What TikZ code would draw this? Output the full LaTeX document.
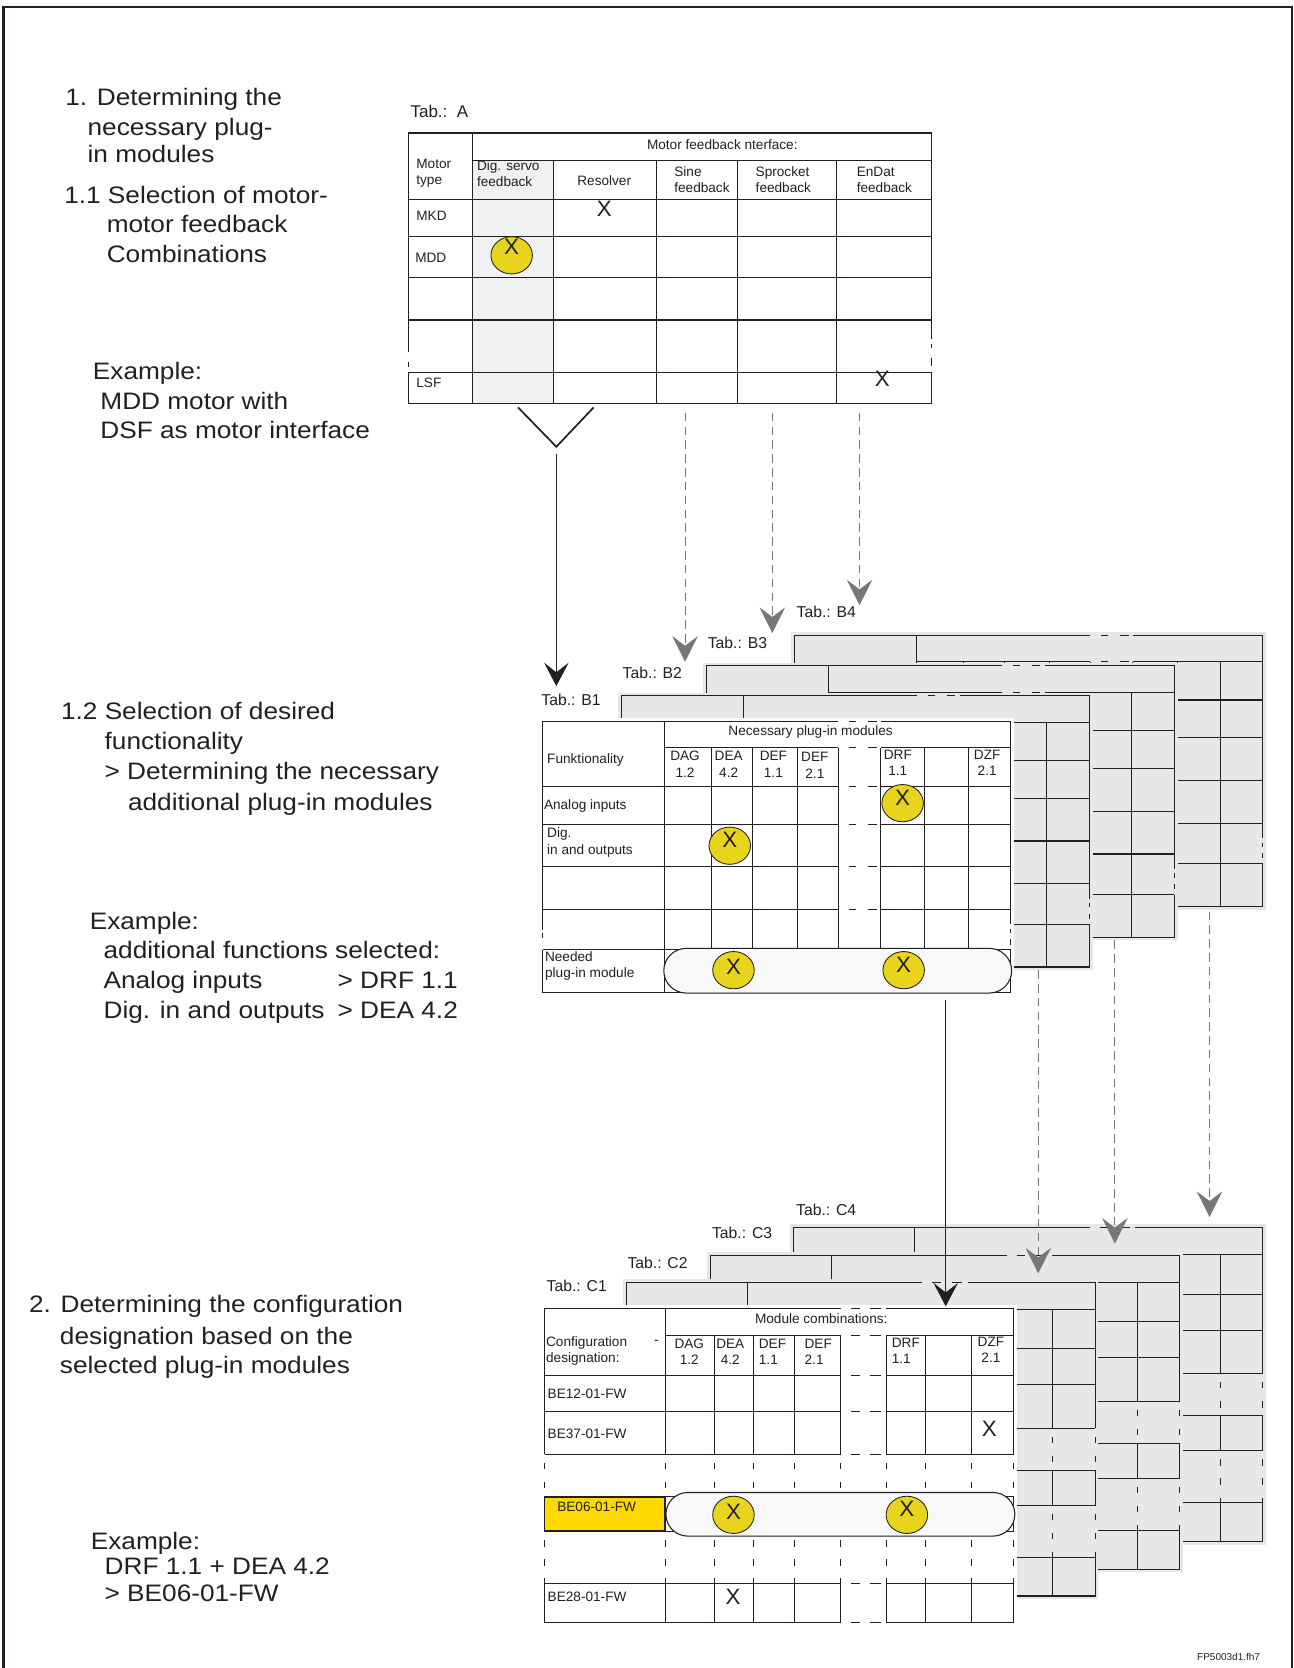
\documentclass[tikz,border=0pt]{standalone}
\usepackage{fontspec}
\setmainfont{Liberation Sans}
\newfontfamily\widesans[FakeStretch=1.1]{Liberation Sans}
\usetikzlibrary{arrows.meta,shapes.geometric,shapes.misc}
\definecolor{linec}{HTML}{231F20}
\definecolor{backgray}{HTML}{E6E7E8}
\definecolor{colgray}{HTML}{F0F1F3}
\definecolor{dotyellow}{HTML}{E8D41C}
\definecolor{boxyellow}{HTML}{FFD800}
\definecolor{stadfill}{HTML}{F8F8F8}
\definecolor{arrowgray}{HTML}{777777}

% one sheet of the Tab.: B stack, #1 = top left corner, #2 = fill
\newcommand{\gridB}[2]{%
\begin{scope}[shift={#1}]
  \fill[#2] (-3,-3) rectangle (443,258);
  \draw[tl] (0,196) -- (0,0) -- (278,0) (318,0) -- (440,0) -- (440,191);
  \draw[tl] (0,215) -- (0,255) -- (440,255) -- (440,215);
  \draw[tl] (0,199) -- (0,204) (440,195) -- (440,199) (440,205) -- (440,210);
  \draw[tl] (114.5,0) -- (114.5,255) (0,215) -- (440,215);
  \draw[tl] (114.5,25) -- (278,25) (318,25) -- (440,25);
  \foreach \y in {61,96.7,136.6,176.8}
    \draw[tl] (0,\y) -- (278,\y) (318,\y) -- (440,\y);
  \foreach \y in {0,25,61,96.7,136.6,176.8}
    \draw[tl] (288,\y) -- (295,\y) (306,\y) -- (314,\y);
  \foreach \x in {159,197.7,240,278,317.7,359.5,400}
    \draw[tl] (\x,25) -- (\x,255);
\end{scope}}

% one sheet of the Tab.: C stack
\newcommand{\gridC}[2]{%
\begin{scope}[shift={#1}]
  \fill[#2] (-3,-3) rectangle (444,298);
  \draw[tl] (0,137.2) -- (0,0) -- (278.4,0) (321.2,0) -- (441,0) -- (441,137.2);
  \draw[tl] (0,258.4) -- (0,295) -- (278.4,295) (321.2,295) -- (441,295) -- (441,258.4);
  \draw[tl] (0,177) rectangle (441,209.8);
  \draw[tl] (113.9,25.7) -- (278.4,25.7) (321.2,25.7) -- (441,25.7);
  \foreach \y in {62.6,96.5,137.2,258.4}
    \draw[tl] (0,\y) -- (278.4,\y) (321.2,\y) -- (441,\y);
  \foreach \y in {0,25.7,62.6,96.5,137.2,258.4,295}
    \draw[tl] (288,\y) -- (296,\y) (306,\y) -- (316,\y);
  \draw[tl] (113.9,0) -- (113.9,137.2) (113.9,177) -- (113.9,209.8) (113.9,258.4) -- (113.9,295);
  \foreach \x in {159.5,196.4,234.6,278.4,321.2,358.1,401}
    \draw[tl] (\x,25.7) -- (\x,137.2) (\x,177) -- (\x,209.8) (\x,258.4) -- (\x,295);
  \foreach \x in {0,113.9,159.5,196.4,234.6,278.4,321.2,358.1,401,441}
    \draw[tl,brk] (\x,137.2) -- (\x,177) (\x,209.8) -- (\x,258.4);
\end{scope}}

\begin{document}
\begin{tikzpicture}[x=0.5pt,y=-0.5pt,
  tl/.style={draw=linec,line width=0.5pt},
  brk/.style={dash pattern=on 3pt off 6pt,dash phase=5pt},
  txt/.style={anchor=base west,inner sep=0pt,text=linec,font=\widesans\fontsize{11.2}{13}\selectfont},
  tt/.style={inner sep=0pt,text=linec,align=left,font=\fontsize{6.4}{7.6}\selectfont},
  tabname/.style={anchor=west,inner sep=0pt,text=linec,font=\fontsize{7.4}{9}\selectfont},
  xmark/.style={inner sep=0pt,text=linec,font=\fontsize{10.5}{12}\selectfont},
  dot/.style={ellipse,draw=linec,line width=0.4pt,fill=dotyellow,minimum width=19.5pt,minimum height=17.5pt,inner sep=0pt},
  stadium/.style={rounded rectangle,draw=linec,line width=0.5pt,fill=stadfill,inner sep=0pt},
  conn/.style={draw=linec,line width=0.6pt,-{Stealth[length=11pt,width=11.5pt,inset=4.5pt]}},
  dconn/.style={draw=arrowgray,line width=0.5pt,dash pattern=on 4pt off 2.5pt,-{Stealth[length=12pt,width=12pt,inset=4.5pt]}}]

\useasboundingbox (0,0) rectangle (1216,1568);
\draw[line width=1.3pt,linec] (3,1568) -- (3,6.5) -- (1214.5,6.5) -- (1214.5,1568);

% left hand texts
\node[txt] (s1a) at (61,99) {1. Determining the};
\node[txt] (s1b) at (82,127) {necessary plug-};
\node[txt] (s1c) at (82,153) {in modules};
\node[txt] (s11a) at (60,191) {1.1 Selection of motor-};
\node[txt] (s11b) at (100,219) {motor feedback};
\node[txt] (s11c) at (100,247) {Combinations};
\node[txt] (exAa) at (87,357) {Example:};
\node[txt] (exAb) at (94,385) {MDD motor with};
\node[txt] (exAc) at (94,412) {DSF as motor interface};
\node[txt] (s12a) at (57,676) {1.2 Selection of desired};
\node[txt] (s12b) at (98,705) {functionality};
\node[txt] (s12c) at (98,733) {> Determining the necessary};
\node[txt] (s12d) at (120,762) {additional plug-in modules};
\node[txt] (exBa) at (84,874) {Example:};
\node[txt] (exBb) at (97,901) {additional functions selected:};
\node[txt] (exBc) at (97,929) {Analog inputs};
\node[txt] (exBd) at (317,929) {> DRF 1.1};
\node[txt] (exBe) at (97,957) {Dig. in and outputs};
\node[txt] (exBf) at (317,957) {> DEA 4.2};
\node[txt] (s2a) at (27,1234) {2. Determining the configuration};
\node[txt] (s2b) at (56,1264) {designation based on the};
\node[txt] (s2c) at (56,1291) {selected plug-in modules};
\node[txt] (exCa) at (85,1457) {Example:};
\node[txt] (exCb) at (98,1480) {DRF 1.1 + DEA 4.2};
\node[txt] (exCc) at (98,1505) {> BE06-01-FW};

% Tab.: A
\node[tabname,font=\fontsize{8}{9}\selectfont] (tabA) at (385.5,105) {Tab.:~~A};
\fill[colgray] (444,151) rectangle (520.6,379);
\draw[tl] (384,330.5) -- (384,125) -- (876,125) -- (876,318.6);
\draw[tl] (384,350.2) -- (384,379) -- (876,379) -- (876,350.2);
\draw[tl] (384,340) -- (384,345) (876,323) -- (876,327) (876,337) -- (876,344);
\draw[tl] (444,151) -- (876,151) (444,125) -- (444,379);
\foreach \y in {187.6,222,261,300.8,350.2}
  \draw[tl] (384,\y) -- (876,\y);
\foreach \x in {520.6,617.2,693.3,786.1}
  \draw[tl] (\x,151) -- (\x,379);
\node[tt] (hA) at (679,136) {Motor feedback nterface:};
\node[tt,anchor=west] (mtype) at (391,163) {Motor\\type};
\node[tt,anchor=west] (dsf) at (448,163.5) {Dig. servo\\feedback};
\node[tt] (res) at (568,170) {Resolver};
\node[tt,anchor=west] (sine) at (633.5,169) {Sine\\feedback};
\node[tt,anchor=west] (sprk) at (710,168.5) {Sprocket\\feedback};
\node[tt,anchor=west] (endat) at (805,169) {EnDat\\feedback};
\node[tt,anchor=west] (mkd) at (391,203) {MKD};
\node[tt,anchor=west] (mdd) at (390,242) {MDD};
\node[tt,anchor=west] (lsf) at (391,359.5) {LSF};
\node[xmark] (xA1) at (568,196) {X};
\node[dot] (dA) at (481,240) {};
\node[xmark] (xA2) at ([yshift=4pt]dA.center) {X};
\node[xmark] (xA3) at (829.5,356.5) {X};

% Tab.: B stack
\gridB{(747,597)}{backgray}
\gridB{(664,626)}{backgray}
\gridB{(584,654)}{backgray}
\gridB{(510,678)}{white}
\node[tabname] (tabB1) at (508.5,657.5) {Tab.: B1};
\node[tabname] (tabB2) at (585,632.5) {Tab.: B2};
\node[tabname] (tabB3) at (665,604) {Tab.: B3};
\node[tabname] (tabB4) at (748.5,575) {Tab.: B4};
\node[tt] (hB) at (762,688) {Necessary plug-in modules};
\node[tt,anchor=west] (func) at (514,714) {Funktionality};
\node[tt,align=center] (dagB) at (644,718.5) {DAG\\1.2};
\node[tt,align=center] (deaB) at (685,718.5) {DEA\\4.2};
\node[tt,align=center] (def1B) at (727,718.5) {DEF\\1.1};
\node[tt,align=center] (def2B) at (766,719.5) {DEF\\2.1};
\node[tt,align=center] (drfB) at (844,717) {DRF\\1.1};
\node[tt,align=center] (dzfB) at (928,717) {DZF\\2.1};
\node[tt,anchor=west] (anaB) at (511,758) {Analog inputs};
\node[tt,anchor=west] (digB) at (514,792) {Dig.\\in and outputs};
\node[stadium,minimum width=163.5pt,minimum height=21pt] (needB) at (787.5,912.5) {};
\node[tt,anchor=west] (needT) at (512,908) {Needed\\plug-in module};
\node[dot] (dB1) at (848.5,755) {};
\node[xmark] (xB1) at ([yshift=2.5pt]dB1.center) {X};
\node[dot] (dB2) at (686,795) {};
\node[xmark] (xB2) at ([yshift=3pt]dB2.center) {X};
\node[dot] (dB3) at (689.5,912) {};
\node[xmark] (xB3) at ([yshift=1.5pt]dB3.center) {X};
\node[dot] (dB4) at (849.5,912) {};
\node[xmark] (xB4) at ([yshift=2.5pt]dB4.center) {X};

% Tab.: C stack
\gridC{(746,1154)}{backgray}
\gridC{(668,1180)}{backgray}
\gridC{(588.5,1205.3)}{backgray}
\gridC{(512,1230)}{white}
\node[tabname] (tabC1) at (513.5,1208.5) {Tab.: C1};
\node[tabname] (tabC2) at (589.5,1187.5) {Tab.: C2};
\node[tabname] (tabC3) at (669,1159) {Tab.: C3};
\node[tabname] (tabC4) at (748,1137) {Tab.: C4};
\node[tt] (hC) at (772,1240) {Module combinations:};
\node[tt,anchor=west] (conf) at (513,1270) {Configuration\\designation:};
\node[tt] (confdash) at (617,1262) {-};
\node[tt,align=center] (dagC) at (648,1271) {DAG\\1.2};
\node[tt,align=center] (deaC) at (686.5,1271) {DEA\\4.2};
\node[tt,anchor=west] (def1C) at (713,1271) {DEF\\1.1};
\node[tt,anchor=west] (def2C) at (756,1271) {DEF\\2.1};
\node[tt,anchor=west] (drfC) at (838,1269.5) {DRF\\1.1};
\node[tt,align=center] (dzfC) at (931.5,1268.5) {DZF\\2.1};
\node[tt,anchor=west] (be12) at (514.5,1310) {BE12-01-FW};
\node[tt,anchor=west] (be37) at (514.5,1347.5) {BE37-01-FW};
\node[xmark] (xC1) at (930,1343) {X};
\node[draw=linec,line width=0.5pt,fill=boxyellow,minimum width=56.5pt,minimum height=15.7pt,inner sep=0pt] (be06box) at (568.5,1423.3) {};
\node[tt,anchor=west] (be06) at (523.5,1416) {BE06-01-FW};
\node[stadium,minimum width=164pt,minimum height=20.5pt] (needC) at (790,1423.5) {};
\node[dot] (dC1) at (689.5,1424) {};
\node[xmark] (xC2) at ([yshift=1.5pt]dC1.center) {X};
\node[dot] (dC2) at (852.5,1424) {};
\node[xmark] (xC3) at ([yshift=3pt]dC2.center) {X};
\node[tt,anchor=west] (be28) at (514.5,1501) {BE28-01-FW};
\node[xmark] (xC4) at (689,1501.5) {X};

% connectors
\coordinate (vL) at (487,383);
\coordinate (vM) at (523,420);
\coordinate (vR) at (558,383);
\draw[linec,line width=0.8pt] (vL) -- (vM) -- (vR);
\coordinate (outA) at (523,427);
\coordinate (inB1) at (523,645);
\draw[conn] (outA) -- (inB1);
\coordinate (sineA) at (644,388);
\coordinate (inB2) at (644,622);
\coordinate (sprkA) at (726,388);
\coordinate (inB3) at (726,595);
\coordinate (endatA) at (808,388);
\coordinate (inB4) at (808,569);
\draw[dconn] (sineA) -- (inB2);
\draw[dconn] (sprkA) -- (inB3);
\draw[dconn] (endatA) -- (inB4);
\coordinate (outB1) at (889,940);
\coordinate (inC1) at (889,1228);
\draw[conn] (outB1) -- (inC1);
\coordinate (outB2) at (976,912);
\coordinate (inC2) at (976,1197);
\coordinate (outB3) at (1048,884);
\coordinate (inC3) at (1048,1169);
\coordinate (outB4) at (1137,857);
\coordinate (inC4) at (1137,1144);
\draw[dconn] (outB2) -- (inC2);
\draw[dconn] (outB3) -- (inC3);
\draw[dconn] (outB4) -- (inC4);

\node[inner sep=0pt,anchor=west,text=linec,font=\fontsize{4.7}{5}\selectfont] (fileid) at (1125,1557.6) {FP5003d1.fh7};
\end{tikzpicture}
\end{document}
